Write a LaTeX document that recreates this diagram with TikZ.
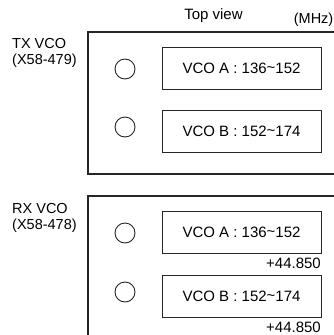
\documentclass[tikz,border=0pt]{standalone}
\usepackage{fontspec}
\setmainfont{Liberation Sans}
\begin{document}
\begin{tikzpicture}[x=1pt,y=-1pt,
  outer/.style={line width=1.3pt,draw=black!85},
  vcobox/.style={draw=black!85,line width=0.9pt,minimum width=159pt,minimum height=42pt,inner sep=0pt,font=\fontsize{15}{17}\selectfont},
  hole/.style={draw=black!85,line width=0.9pt,circle,minimum size=20pt,inner sep=0pt},
  lbl/.style={inner sep=0pt,font=\fontsize{14.5}{16}\selectfont}]
\useasboundingbox (0,0) rectangle (334,335);
\clip (0,0) rectangle (334,335);
% outer boxes
\draw[outer] (345,32) -- (88,32) -- (88,174) -- (345,174);
\draw[outer] (345,196) -- (88,196) -- (88,345);
% titles
\node[lbl,anchor=base,font=\fontsize{15}{17}\selectfont] (top) at (213.5,19) {Top view};
\node[lbl,anchor=base east] (mhz) at (333.5,23) {(MHz)};
\node[lbl,anchor=base west] (tx1) at (12,48) {TX VCO};
\node[lbl,anchor=base west] (tx2) at (12,64) {(X58-479)};
\node[lbl,anchor=base west] (rx1) at (12,213) {RX VCO};
\node[lbl,anchor=base west] (rx2) at (12,229) {(X58-478)};
% TX
\node[vcobox] (txa) at (241.5,68) {VCO A : 136\raisebox{0.1ex}{\char"007E}152};
\node[vcobox] (txb) at (241.5,131.5) {VCO B : 152\raisebox{0.1ex}{\char"007E}174};
\node[hole] (txca) at (125,69) {};
\node[hole] (txcb) at (125,127) {};
% RX
\node[vcobox] (rxa) at (241.5,232.5) {VCO A : 136\raisebox{0.1ex}{\char"007E}152};
\node[vcobox] (rxb) at (241.5,296) {VCO B : 152\raisebox{0.1ex}{\char"007E}174};
\node[hole] (rxca) at (125,233) {};
\node[hole] (rxcb) at (125,292) {};
\node[lbl,anchor=base east,font=\fontsize{15}{17}\selectfont] (offa) at (321,268) {+44.850};
\node[lbl,anchor=base east,font=\fontsize{15}{17}\selectfont] (offb) at (321,332) {+44.850};
\end{tikzpicture}
\end{document}
